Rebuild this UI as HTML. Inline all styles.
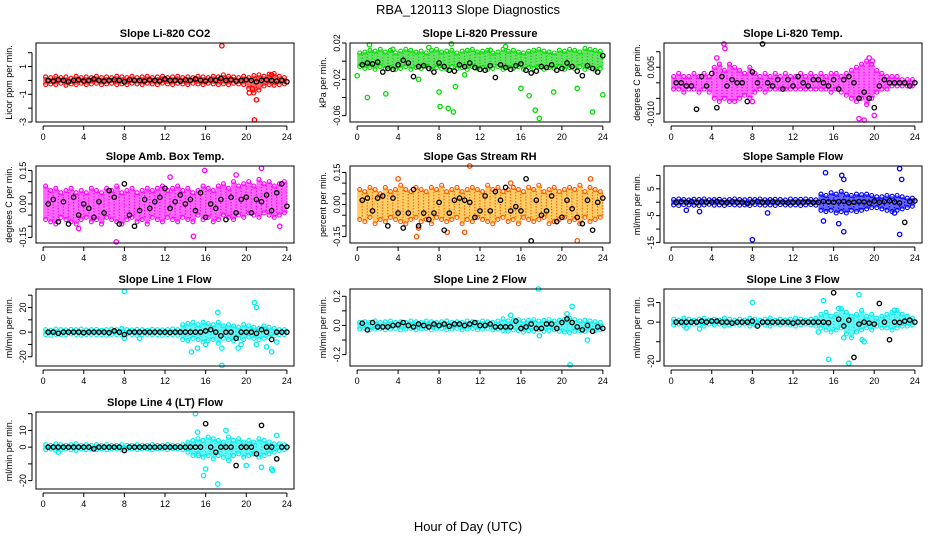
<!DOCTYPE html>
<html><head><meta charset="utf-8"><style>
body{margin:0;background:#fff;}
svg{display:block;font-family:"Liberation Sans",sans-serif;}
</style></head><body>
<svg id="chart" width="936" height="540" xmlns="http://www.w3.org/2000/svg">
<text x="468" y="14" text-anchor="middle" font-size="13">RBA_120113  Slope Diagnostics</text>
<text x="468" y="531" text-anchor="middle" font-size="13">Hour of Day (UTC)</text>
</svg>
<script>
const xTicks=[0,4,8,12,16,20,24];
const hiCO2=[.25,.2,.3,.2,.25,.15,.3,.2,.25,.2,.3,.2,.25,.2,.3,.25,.2,.3,.2,.25,.3,.2,.25,.3,.2,.25,.3,.2,.25,.2,.3,.25,.2,.3,.25,.4,.3,.25,.2,.3,.2,.35,.4,.3,.45,.5,.3,.2];
const loCO2=[-.3,-.25,-.3,-.2,-.35,-.25,-.3,-.2,-.3,-.25,-.2,-.3,-.25,-.2,-.3,-.25,-.3,-.2,-.25,-.3,-.2,-.25,-.3,-.2,-.25,-.3,-.2,-.25,-.3,-.2,-.25,-.3,-.2,-.25,-.3,-.25,-.3,-.2,-.25,-.3,-.6,-.9,-.7,-.4,-.3,-.35,-.3,-.25];
const oxCO2=[17.6,20.8,21,20.3,22.5,20.6];
const oyCO2=[2.5,-2.85,-1.4,-0.9,0.4,-0.6];
const bkCO2=[0,-.05,.05,0,-.1,0,.05,-.05,0,.1,0,-.05,0,.05,0,-.1,.05,0,0,-.05,.05,0,-.05,.1,0,0,-.05,.05,0,.1,0,-.05,.05,0,.15,0,.05,-.05,0,.05,0,-.1,0,.05,0,-.05,0,-.1];

const hiP=[.009,.01,.012,.011,.013,.01,.012,.009,.011,.013,.012,.01,.011,.009,.012,.013,.01,.011,.012,.009,.011,.012,.013,.01,.011,.012,.009,.01,.013,.011,.012,.01,.009,.011,.012,.013,.011,.01,.009,.012,.011,.013,.012,.01,.014,.013,.012,.011];
const loP=[-.006,-.008,-.007,-.009,-.006,-.008,-.007,-.009,-.008,-.006,-.009,-.007,-.008,-.006,-.009,-.007,-.008,-.009,-.006,-.008,-.007,-.009,-.006,-.008,-.007,-.009,-.008,-.006,-.009,-.007,-.008,-.006,-.009,-.007,-.008,-.006,-.009,-.007,-.008,-.006,-.009,-.007,-.008,-.006,-.009,-.007,-.01,-.008];
const oxP=[0,1,2.8,3.5,1.2,8,8.1,8.9,9.4,9.6,9.2,16,16.8,17.4,17.8,19.2,21.5,23,24,14.5,7,6,10.5,13];
const oyP=[-.016,-.04,-.036,.013,.018,-.034,-.05,-.052,-.056,-.028,.019,-.03,-.038,-.054,-.063,-.034,-.03,-.056,-.037,.016,.015,-.02,-.015,.012];
const bkP=[-.004,-.002,-.003,-.001,-.012,-.008,-.009,-.004,.001,-.002,-.017,-.006,-.005,-.008,-.012,-.002,-.006,-.01,-.011,-.004,-.006,-.002,-.007,-.009,-.01,-.005,-.018,-.004,-.007,-.009,-.005,-.003,-.01,-.013,-.011,-.006,-.007,-.004,-.01,-.008,-.002,-.006,-.011,-.016,-.005,-.008,-.012,.006];

const hiT=[.002,.003,.002,.002,.003,.002,.003,.002,.005,.006,.004,.006,.005,.004,.003,.005,.003,.002,.003,.002,.003,.002,.003,.002,.002,.003,.002,.003,.002,.003,.002,.003,.003,.002,.003,.004,.005,.006,.007,.006,.004,.003,.002,.002,.002,.001,.001,.001];
const loT=[-.002,-.002,-.003,-.002,-.002,-.003,-.002,-.003,-.005,-.006,-.005,-.006,-.006,-.005,-.004,-.005,-.003,-.002,-.003,-.002,-.002,-.002,-.002,-.002,-.002,-.002,-.002,-.002,-.002,-.002,-.002,-.003,-.002,-.003,-.004,-.005,-.006,-.005,-.007,-.005,-.003,-.002,-.002,-.001,-.001,-.001,-.001,-.001];
const oxT=[5.2,4.5,19.5,18.5,19,20,8,5.3,19.8];
const oyT=[.0125,.008,.008,-.0115,-.012,-.0105,-.006,.011,.007];
const bkT=[0,0,-.001,-.001,-.0085,.002,-.001,.003,-.008,.002,-.001,.001,0,0,-.006,.0035,0,.0125,0,-.001,.001,-.002,.001,-.001,.002,0,-.001,.001,.001,0,-.001,.001,-.002,.001,.002,0,-.005,-.003,-.005,-.008,-.001,.001,0,0,0,0,-.001,0];

const hiA=[.08,.06,.07,.05,.06,.07,.05,.06,.05,.07,.06,.05,.07,.06,.08,.05,.06,.07,.05,.06,.07,.06,.07,.08,.06,.07,.08,.06,.07,.05,.06,.08,.07,.06,.08,.09,.07,.1,.08,.09,.1,.08,.11,.09,.1,.08,.09,.1];
const loA=[-.07,-.08,-.09,-.06,-.07,-.08,-.09,-.07,-.06,-.08,-.07,-.09,-.06,-.07,-.08,-.09,-.07,-.06,-.08,-.07,-.09,-.06,-.07,-.08,-.06,-.07,-.08,-.06,-.07,-.08,-.05,-.07,-.06,-.08,-.07,-.05,-.06,-.07,-.05,-.06,-.04,-.05,-.06,-.04,-.05,-.06,-.05,-.04];
const oxA=[7.2,14.8,21.5,23.3,15.9,19,12.5,3.5];
const oyA=[-.17,-.145,.16,-.1,.15,.13,.12,-.11];
const bkA=[0,.02,-.08,.01,-.09,.03,-.05,0,-.02,-.06,.01,-.04,.06,.03,-.09,.09,-.05,-.1,-.03,.02,-.02,.01,.03,.07,-.02,.01,.04,0,.02,-.03,.05,-.06,0,-.02,.02,-.07,.03,-.04,.02,.03,-.04,.02,.01,.04,-.03,.05,.09,-.01];

const hiR=[.07,.06,.08,.07,.05,.08,.06,.07,.09,.07,.06,.08,.07,.06,.08,.07,.09,.06,.07,.08,.06,.07,.08,.07,.06,.09,.07,.08,.06,.07,.08,.07,.06,.08,.07,.09,.06,.07,.08,.06,.07,.08,.07,.09,.06,.08,.07,.06];
const loR=[-.07,-.08,-.06,-.09,-.07,-.08,-.06,-.07,-.08,-.09,-.07,-.06,-.08,-.07,-.09,-.06,-.07,-.08,-.07,-.06,-.09,-.07,-.08,-.06,-.07,-.08,-.09,-.07,-.06,-.08,-.07,-.09,-.06,-.07,-.08,-.07,-.06,-.09,-.08,-.07,-.06,-.08,-.07,-.09,-.06,-.08,-.07,-.06];
const oxR=[11,5.8,21.5,8.8,10.5,4,6,15,22.8];
const oyR=[.18,-.15,-.17,-.13,-.13,.12,-.11,.1,.12];
const bkR=[.02,.03,-.03,.03,.04,-.1,.03,-.04,-.11,-.04,.07,-.1,-.04,-.07,-.04,.01,-.12,-.04,.02,.03,.02,.01,-.06,-.03,.04,-.03,.06,.02,.08,-.03,-.01,-.03,.12,-.17,.02,-.05,-.03,.04,-.08,-.06,.02,-.02,-.06,-.09,.02,-.12,.01,.03];

const hiS=[1,1.2,1,.8,1.1,1,1.2,.9,1,1.1,.8,1,1.2,1,.9,1.1,1,1.2,.9,1,1.1,1,.8,1.2,1,1.1,1.2,1,.9,3,2.5,3.5,3,4,3,2.5,3,2.8,3,2.5,2,2,2.5,2.2,2.5,2,1.5,1.5];
const loS=[-1,-1.2,-.9,-1,-1.1,-1.2,-1,-.8,-1.1,-1,-1.2,-.9,-1,-1.1,-1,-1.2,-.9,-1,-1.1,-1,-1.2,-.9,-1,-1.1,-1,-1.2,-1,-.9,-1.1,-3,-3.5,-3,-4,-3.5,-4,-3,-3.5,-3,-2.5,-2,-2,-2.5,-3,-3.5,-3,-2.5,-2,-1.5];
const oxS=[15.2,16.8,17,22.5,22.7,22.5,17,8,15,1.5,2.8,9.5,16.5,22];
const oyS=[11,10,8.5,12.5,8.5,-12,-11,-14,-7,-3,-3.5,-4,-8,-4];
const bkS=[0,.2,0,.3,-.1,.2,0,.1,.3,0,-.1,.2,0,.1,-.5,0,.3,0,.1,.2,0,.1,-.2,0,.1,0,.2,-.1,0,.3,.1,0,.2,.3,-.2,0,.2,.1,-.3,.4,0,.2,.5,.1,-.3,-7.5,.3,.5];

const hi1=[2,1.5,2.5,2,1.8,2.2,2,2.5,1.8,2,2.2,1.5,2,2.5,2,3,2,1.8,2.2,2,1.5,2.2,2,1.8,2,2.5,2,6,7,8,6,8,7,6,8,5,6,5,4,6,5,4,3,5,4,3,2,2];
const lo1=[-2,-2.5,-1.8,-2,-2.2,-1.5,-2,-2.5,-2,-1.8,-2.2,-2,-2.5,-1.8,-2,-2.2,-1.5,-2,-2.5,-2,-1.8,-2.2,-2,-2.5,-2,-2,-2.5,-6,-7,-5,-6,-8,-7,-6,-9,-5,-6,-7,-5,-6,-4,-5,-6,-5,-4,-3,-2,-2];
const ox1=[8,20.8,21,17.2,17.6,14.6,15.2,17.6,19.2,22.5,21,16,19.5,8,9.5,22,23];
const oy1=[33,24,20,16,-27,-16,-13,-13,-13,-16,-10,-10,-10,-5,-5,-12,-8];
const bk1=[0,0,-1,0,0,0,0,-.5,0,0,0,0,-.5,1,0,-2,0,0,0,0,0,0,0,0,-.3,0,0,0,0,0,0,1,2,0,-3,0,0,-5,0,0,0,-1,2,0,-6,0,0,0];

const hi2=[.02,.025,.02,.03,.02,.025,.03,.02,.025,.02,.03,.025,.02,.03,.025,.02,.025,.03,.02,.025,.02,.03,.025,.02,.03,.025,.02,.03,.045,.03,.035,.04,.03,.035,.04,.03,.035,.04,.03,.035,.04,.05,.04,.03,.035,.03,.025,.02];
const lo2=[-.025,-.02,-.03,-.025,-.02,-.03,-.025,-.02,-.03,-.025,-.02,-.03,-.025,-.02,-.03,-.025,-.02,-.03,-.025,-.02,-.03,-.025,-.02,-.03,-.025,-.02,-.03,-.025,-.035,-.04,-.03,-.035,-.045,-.035,-.04,-.03,-.04,-.035,-.03,-.04,-.045,-.05,-.04,-.035,-.04,-.03,-.035,-.03];
const ox2=[17.7,20.8,21,22.5,15,17.8,20.5];
const oy2=[.25,-.27,.13,-.1,.07,-.07,.08];
const bk2=[.015,-.03,.02,-.01,-.01,-.01,0,.005,.02,0,-.01,.01,0,-.01,.01,0,.01,-.005,.01,.01,0,.01,.02,0,0,.01,-.01,-.01,-.01,-.01,.03,-.02,-.01,.01,-.02,-.02,.01,.01,-.02,.02,.045,.02,-.01,-.03,0,-.04,-.01,-.02];

const hi3=[1.5,1,2,1.5,1,1.5,2,1,1.5,1,2,1.5,1,1.5,1,2,1.5,1,1.5,2,1,1.5,1,1.5,2,1.5,1,1.5,2,4,5,3,4,7,5,3,4,6,3,4,2,3,4,5,6,4,3,2];
const lo3=[-1.5,-1,-2,-1.5,-1,-1.5,-2,-1,-1.5,-1,-2,-1.5,-1,-1.5,-1,-2,-1.5,-1,-1.5,-2,-1,-1.5,-1,-1.5,-2,-1.5,-1,-1.5,-2,-3,-4,-5,-4,-3,-6,-8,-5,-4,-3,-4,-2,-3,-3,-4,-3,-2,-2,-1.5];
const ox3=[8,15.5,17.5,18.5,15,16.5,19,17,22,1.5,2.8,18.8,14.5];
const oy3=[10,-19,-21,14,11,7,-10,-8,6,-3,-3.5,-9,-5];
const bk3=[0,0,0,0,0,.5,0,.5,.5,0,0,-.5,0,0,0,.5,-2,0,0,0,0,0,0,-.5,0,0,0,0,0,0,-.3,15,1.5,-2,1,-18,-1,0,-.5,-1,9.5,0,-9,0,-.2,.5,1,0];

const hi4=[1.5,1,2,1.5,1,1.5,2,1,1.5,1,1.5,1,1.5,1,1,1.5,1,1,1.5,1,1,1.5,1,1,1.5,1,1,1.5,3,4,5,4,6,5,4,3,6,4,5,3,4,3,5,4,3,2,2,1.5];
const lo4=[-1.5,-1,-2,-1.5,-1,-1.5,-2,-1,-1.5,-1,-1.5,-1,-1.5,-1,-1,-1.5,-1,-1,-1.5,-1,-1,-1.5,-1,-1,-1.5,-1,-1,-1.5,-3,-5,-4,-6,-5,-7,-5,-6,-8,-5,-4,-6,-5,-4,-6,-5,-4,-3,-2,-1.5];
const ox4=[15,15.2,15.8,16,17.2,20,21.5,22.5,23,18,1.5,15.3,22.6];
const oy4=[20,9,-17,-13,-22,-11,-12,-13,7,10,-3,-5,-14];
const bk4=[0,0,0,0,0,0,0,0,0,-1,0,0,0,0,0,-2,0,0,0,0,0,0,0,0,0,0,0,0,0,0,0,14,0,-3,0,0,0,-11,0,0,0,-4,13,0,0,-7,0,0];

const panels=[
 {name:'li820-co2',title:'Slope Li-820 CO2',ylab:'Licor ppm per min.',col:'#ff0000',band:'#ff0000',ymin:-3,ymax:2.7,ticks:[-3,-2,-1,0,1,2],labs:['-3','-1','1'],labv:[-3,-1,1],hi:hiCO2,lo:loCO2,ox:oxCO2,oy:oyCO2,bk:bkCO2},
 {name:'li820-pressure',title:'Slope Li-820 Pressure',ylab:'kPa per min.',col:'#00dd00',band:'#00cc00',ymin:-0.067,ymax:0.02,ticks:[-0.06,-0.04,-0.02,0,0.02],labs:['-0.06','-0.02','0.02'],labv:[-0.06,-0.02,0.02],hi:hiP,lo:loP,ox:oxP,oy:oyP,bk:bkP},
 {name:'li820-temp',title:'Slope Li-820 Temp.',ylab:'degrees C per min.',col:'#ff00ff',band:'#ff00ff',ymin:-0.0126,ymax:0.0128,ticks:[-0.01,-0.005,0,0.005,0.01],labs:['-0.010','0.005'],labv:[-0.01,0.005],hi:hiT,lo:loT,ox:oxT,oy:oyT,bk:bkT},
 {name:'amb-box-temp',title:'Slope Amb. Box Temp.',ylab:'degrees C per min.',col:'#ff00ff',band:'#ff00ff',ymin:-0.175,ymax:0.17,ticks:[-0.15,-0.1,-0.05,0,0.05,0.1,0.15],labs:['-0.15','0.00','0.15'],labv:[-0.15,0,0.15],hi:hiA,lo:loA,ox:oxA,oy:oyA,bk:bkA},
 {name:'gas-stream-rh',title:'Slope Gas Stream RH',ylab:'percent per min.',col:'#ff5500',band:'#ffaa00',ymin:-0.18,ymax:0.18,ticks:[-0.15,-0.1,-0.05,0,0.05,0.1,0.15],labs:['-0.15','0.00','0.15'],labv:[-0.15,0,0.15],hi:hiR,lo:loR,ox:oxR,oy:oyR,bk:bkR},
 {name:'sample-flow',title:'Slope Sample Flow',ylab:'ml/min per min.',col:'#0000ff',band:'#0000ff',ymin:-15.2,ymax:13.5,ticks:[-15,-10,-5,0,5,10],labs:['-15','-5','5'],labv:[-15,-5,5],hi:hiS,lo:loS,ox:oxS,oy:oyS,bk:bkS},
 {name:'line1-flow',title:'Slope Line 1 Flow',ylab:'ml/min per min.',col:'#00eeee',band:'#00eeee',ymin:-27.5,ymax:35,ticks:[-20,-10,0,10,20,30],labs:['-20','0','20'],labv:[-20,0,20],hi:hi1,lo:lo1,ox:ox1,oy:oy1,bk:bk1},
 {name:'line2-flow',title:'Slope Line 2 Flow',ylab:'ml/min per min.',col:'#00eeee',band:'#00eeee',ymin:-0.278,ymax:0.25,ticks:[-0.2,-0.1,0,0.1,0.2],labs:['-0.2','0.0','0.2'],labv:[-0.2,0,0.2],hi:hi2,lo:lo2,ox:ox2,oy:oy2,bk:bk2},
 {name:'line3-flow',title:'Slope Line 3 Flow',ylab:'ml/min per min.',col:'#00eeee',band:'#00eeee',ymin:-22.4,ymax:16.9,ticks:[-20,-10,0,10],labs:['-20','0','10'],labv:[-20,0,10],hi:hi3,lo:lo3,ox:ox3,oy:oy3,bk:bk3},
 {name:'line4-lt-flow',title:'Slope Line 4 (LT) Flow',ylab:'ml/min per min.',col:'#00eeee',band:'#00eeee',ymin:-25,ymax:21,ticks:[-20,-10,0,10,20],labs:['-20','0','10'],labv:[-20,0,10],hi:hi4,lo:lo4,ox:ox4,oy:oy4,bk:bk4}
];
const NS='http://www.w3.org/2000/svg';
const svg=document.getElementById('chart');
const colsX=[[36,294],[350,610],[664,922]];
const rowsY=[[43,122],[166,243],[289,366],[412,489]];
function mk(tag,attrs,parent){const e=document.createElementNS(NS,tag);for(const k in attrs)e.setAttribute(k,attrs[k]);parent.appendChild(e);return e;}
panels.forEach((p,i)=>{
 const [L,R]=colsX[i%3],[T,B]=rowsY[Math.floor(i/3)];
 const g=mk('g',{},svg);
 
 
 const xs=v=>L+(v+0.7)/25.4*(R-L);
 const ys=v=>B-(v-p.ymin)/(p.ymax-p.ymin)*(B-T);
 const t=mk('text',{x:(L+R)/2,y:T-6,'text-anchor':'middle','font-size':'11','font-weight':'bold'},g);
 t.textContent=p.title;
 
 
 const yl=mk('text',{x:0,y:0,'text-anchor':'middle','font-size':'9',transform:`translate(${L-24},${(T+B)/2}) rotate(-90)`},g);
 yl.textContent=p.ylab;
 
 
 const xa=mk('g',{},g);
 
 
 mk('line',{x1:xs(0),x2:xs(24),y1:B+4,y2:B+4,stroke:'#000'},xa);
 xTicks.forEach(v=>{mk('line',{x1:xs(v),x2:xs(v),y1:B+4,y2:B+8,stroke:'#000'},xa);
  const tl=mk('text',{x:xs(v),y:B+18,'text-anchor':'middle','font-size':'9'},xa);tl.textContent=v;
  
  });
 const ya=mk('g',{},g);
 
 
 mk('line',{x1:L-4,x2:L-4,y1:ys(p.ticks[0]),y2:ys(p.ticks[p.ticks.length-1]),stroke:'#000'},ya);
 p.ticks.forEach(v=>{if(v<p.ymin||v>p.ymax)return;mk('line',{x1:L-8,x2:L-4,y1:ys(v),y2:ys(v),stroke:'#000'},ya);});
 p.labv.forEach((v,k)=>{const tl=mk('text',{x:0,y:0,'text-anchor':'middle','font-size':'9',transform:`translate(${L-10},${ys(v)}) rotate(-90)`},ya);tl.textContent=p.labs[k];
  
  });
 const cg=mk('g',{},g);
 
 
 p.hi.forEach((h,k)=>{const x=xs(k*0.5+0.25);
  mk('line',{x1:x,x2:x,y1:ys(h),y2:ys(p.lo[k]),stroke:p.band,'stroke-width':5,'stroke-opacity':0.6},cg);
  mk('line',{x1:x+2.5,x2:x+2.5,y1:ys(h)+1.5,y2:ys(p.lo[k])-1.5,stroke:p.col,'stroke-width':1.2,'stroke-dasharray':'1.5 1.5'},cg);
  mk('circle',{cx:x,cy:ys(h),r:2,fill:'none',stroke:p.col,'stroke-width':1.1},cg);
  mk('circle',{cx:x,cy:ys(p.lo[k]),r:2,fill:'none',stroke:p.col,'stroke-width':1.1},cg);});
 p.ox.forEach((x,k)=>{const c=mk('circle',{cx:xs(x),cy:ys(p.oy[k]),r:2.2,fill:'none',stroke:p.col,'stroke-width':1.3},cg);
  
  });
 const bg=mk('g',{},g);
 
 
 p.bk.forEach((v,k)=>{mk('circle',{cx:xs(k*0.5+0.5),cy:ys(v),r:2.2,fill:'none',stroke:'#000','stroke-width':1.3},bg);});
 const box=mk('rect',{x:L,y:T,width:R-L,height:B-T,fill:'none',stroke:'#000','stroke-width':1},g);
 
 
});
</script>
</body></html>
